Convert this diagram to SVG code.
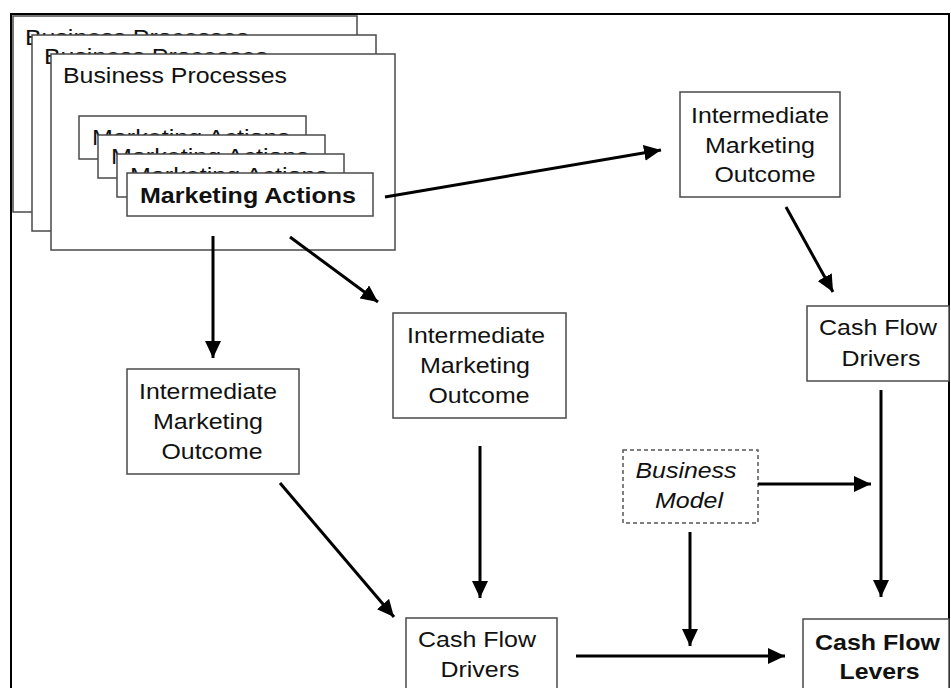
<svg xmlns="http://www.w3.org/2000/svg" width="951" height="688" viewBox="0 0 951 688">
<defs>
<style>
.box{fill:#fff;stroke:#4a4a4a;stroke-width:1.5}
.dash{fill:#fff;stroke:#555;stroke-width:1.5;stroke-dasharray:4 3}
.t{font-family:"Liberation Sans",Arial,sans-serif;font-size:22.4px;fill:#111}
.c{text-anchor:middle}
.b{font-weight:bold}
.i{font-style:italic}
.arr{stroke:#000;stroke-width:3;fill:none;marker-end:url(#ah)}
</style>
<marker id="ah" markerUnits="userSpaceOnUse" markerWidth="18" markerHeight="16" refX="17" refY="8" orient="auto">
<path d="M0,0 L17,8 L0,16 z" fill="#000"/>
</marker>
</defs>
<rect x="11" y="14" width="938" height="700" fill="#fff" stroke="#000" stroke-width="2"/>
<g id="business-processes">
<rect class="box" x="13" y="16" width="344" height="196"/>
<text class="t" x="25" y="45" textLength="224" lengthAdjust="spacingAndGlyphs">Business Processes</text>
<rect class="box" x="32" y="35" width="344" height="196"/>
<text class="t" x="44" y="64" textLength="224" lengthAdjust="spacingAndGlyphs">Business Processes</text>
<rect class="box" x="51" y="54" width="344" height="196"/>
<text class="t" x="63" y="83" textLength="224" lengthAdjust="spacingAndGlyphs">Business Processes</text>
</g>
<g id="marketing-actions">
<rect class="box" x="79" y="116" width="227" height="43"/>
<text class="t" x="92" y="145" textLength="198" lengthAdjust="spacingAndGlyphs">Marketing Actions</text>
<rect class="box" x="98" y="135" width="227" height="43"/>
<text class="t" x="111" y="164" textLength="198" lengthAdjust="spacingAndGlyphs">Marketing Actions</text>
<rect class="box" x="117" y="154" width="227" height="43"/>
<text class="t" x="130" y="183" textLength="198" lengthAdjust="spacingAndGlyphs">Marketing Actions</text>
<rect class="box" x="127" y="173" width="246" height="43"/>
<text class="t b" x="140" y="203" textLength="216" lengthAdjust="spacingAndGlyphs">Marketing Actions</text>
</g>
<g id="imo-top">
<rect class="box" x="680" y="92" width="160" height="105"/>
<text class="t c" x="760" y="123" textLength="138" lengthAdjust="spacingAndGlyphs">Intermediate</text>
<text class="t c" x="760" y="153" textLength="110" lengthAdjust="spacingAndGlyphs">Marketing</text>
<text class="t c" x="765" y="182" textLength="101" lengthAdjust="spacingAndGlyphs">Outcome</text>
</g>
<g id="cfd-top">
<rect class="box" x="807" y="306" width="142" height="75"/>
<text class="t c" x="878" y="335" textLength="118" lengthAdjust="spacingAndGlyphs">Cash Flow</text>
<text class="t c" x="881" y="366" textLength="79" lengthAdjust="spacingAndGlyphs">Drivers</text>
</g>
<g id="imo-left">
<rect class="box" x="127" y="369" width="172" height="105"/>
<text class="t c" x="208" y="399" textLength="138" lengthAdjust="spacingAndGlyphs">Intermediate</text>
<text class="t c" x="208" y="429" textLength="110" lengthAdjust="spacingAndGlyphs">Marketing</text>
<text class="t c" x="212" y="459" textLength="101" lengthAdjust="spacingAndGlyphs">Outcome</text>
</g>
<g id="imo-middle">
<rect class="box" x="393" y="313" width="173" height="105"/>
<text class="t c" x="476" y="343" textLength="138" lengthAdjust="spacingAndGlyphs">Intermediate</text>
<text class="t c" x="475" y="373" textLength="110" lengthAdjust="spacingAndGlyphs">Marketing</text>
<text class="t c" x="479" y="403" textLength="101" lengthAdjust="spacingAndGlyphs">Outcome</text>
</g>
<g id="business-model">
<rect class="dash" x="623" y="450" width="135" height="73"/>
<text class="t c i" x="686" y="478" textLength="101" lengthAdjust="spacingAndGlyphs">Business</text>
<text class="t c i" x="689" y="508" textLength="68" lengthAdjust="spacingAndGlyphs">Model</text>
</g>
<g id="cfd-bottom">
<rect class="box" x="406" y="618" width="151" height="90"/>
<text class="t c" x="477" y="647" textLength="118" lengthAdjust="spacingAndGlyphs">Cash Flow</text>
<text class="t c" x="480" y="677" textLength="79" lengthAdjust="spacingAndGlyphs">Drivers</text>
</g>
<g id="cash-flow-levers">
<rect class="box" x="803" y="619" width="146" height="90"/>
<text class="t c b" x="877.5" y="650" textLength="125" lengthAdjust="spacingAndGlyphs">Cash Flow</text>
<text class="t c b" x="879.5" y="679" textLength="80" lengthAdjust="spacingAndGlyphs">Levers</text>
</g>
<g id="connectors">
<line class="arr" x1="385" y1="197" x2="661" y2="150"/>
<line class="arr" x1="213" y1="236" x2="213" y2="358"/>
<line class="arr" x1="290" y1="237" x2="378" y2="302"/>
<line class="arr" x1="786" y1="207" x2="833" y2="292"/>
<line class="arr" x1="881" y1="390" x2="881" y2="597"/>
<line class="arr" x1="280" y1="483" x2="394" y2="617"/>
<line class="arr" x1="480" y1="446" x2="480" y2="598"/>
<line class="arr" x1="576" y1="656" x2="785" y2="656"/>
<line class="arr" x1="758" y1="484" x2="871" y2="484"/>
<line class="arr" x1="690" y1="532" x2="690" y2="646"/>
</g>
</svg>
